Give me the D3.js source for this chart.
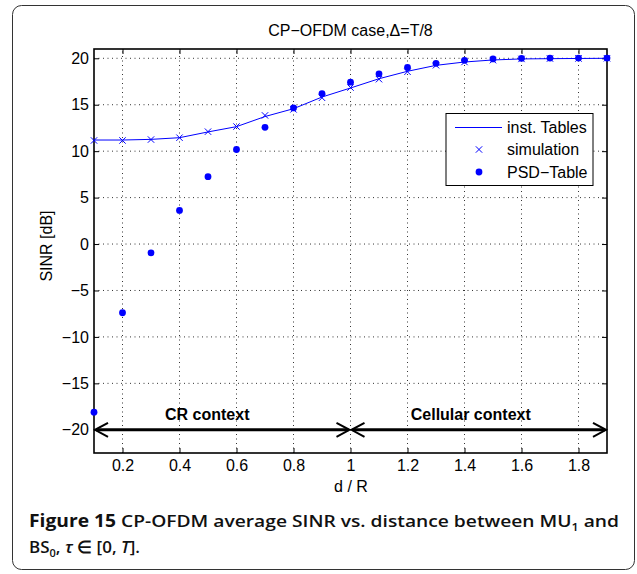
<!DOCTYPE html>
<html><head><meta charset="utf-8">
<script src="https://cdn.jsdelivr.net/npm/d3@7"></script>
<style>
body{margin:0;background:#fff;}
svg{display:block;}
</style></head>
<body>
<script>
// ---- data ----
const dR = [0.1,0.2,0.3,0.4,0.5,0.6,0.7,0.8,0.9,1.0,1.1,1.2,1.3,1.4,1.5,1.6,1.7,1.8,1.9];
const instTables = [11.2,11.2,11.27,11.45,12.07,12.64,13.73,14.57,15.83,16.8,17.8,18.6,19.24,19.6,19.82,19.93,19.96,19.98,20.0];
const simulation = [11.15,11.15,11.25,11.45,12.1,12.65,13.85,14.5,15.75,16.85,17.75,18.55,19.25,19.6,19.8,19.93,19.97,19.98,20.0];
const psdTable = [-18.1,-7.4,-0.95,3.62,7.25,10.18,12.57,14.65,16.2,17.43,18.33,19.02,19.46,19.78,19.93,20.0,20.02,20.02,20.02];
const xTicks = [0.2,0.4,0.6,0.8,1,1.2,1.4,1.6,1.8];
const yTicks = [-20,-15,-10,-5,0,5,10,15,20];
const legendLabels = ["inst. Tables","simulation","PSD\u2212Table"];
const regions = [{label:"CR context", from:0.1, to:1.0},{label:"Cellular context", from:1.0, to:1.9}];
const regionLevel = -20;

const W = 637, H = 574;
const L = 94, R = 607, T = 49, B = 453;
const blue = "#0000ff";
const font = "'Liberation Sans', Arial, Helvetica, sans-serif";

const svg = d3.select("body").append("svg").attr("width",W).attr("height",H);

// outer rounded frame
svg.append("rect").attr("x",12.5).attr("y",5.5).attr("width",622).attr("height",564)
  .attr("rx",9).attr("fill","#fff").attr("stroke","#333").attr("stroke-width",1);

const x = d3.scaleLinear().domain([0.1,1.9]).range([L,R]);
const y = d3.scaleLinear().domain([-22.5,21]).range([B,T]);

// grid
const grid = svg.append("g").attr("stroke","#000").attr("stroke-width",0.8).attr("stroke-dasharray","1,3.5");
grid.selectAll(".gx").data(xTicks).enter().append("line")
  .attr("x1",d=>x(d)).attr("x2",d=>x(d)).attr("y1",B).attr("y2",T);
grid.selectAll(".gy").data(yTicks).enter().append("line")
  .attr("x1",L).attr("x2",R).attr("y1",d=>y(d)).attr("y2",d=>y(d));

// axes
function styleAxis(g){
  g.select(".domain").remove();
  g.selectAll(".tick line").attr("stroke","#000").attr("stroke-width",1);
  g.selectAll("text").attr("font-family",font).attr("font-size",16).attr("fill","#000");
}
svg.append("g").attr("transform",`translate(0,${B})`)
  .call(d3.axisBottom(x).tickValues(xTicks).tickSizeInner(-5).tickSizeOuter(0).tickPadding(7).tickFormat(d3.format("")))
  .call(styleAxis);
svg.append("g").attr("transform",`translate(0,${T})`)
  .call(d3.axisTop(x).tickValues(xTicks).tickSizeInner(-5).tickSizeOuter(0).tickFormat(""))
  .call(styleAxis);
svg.append("g").attr("transform",`translate(${L},0)`)
  .call(d3.axisLeft(y).tickValues(yTicks).tickSizeInner(-5).tickSizeOuter(0).tickPadding(5))
  .call(styleAxis);
svg.append("g").attr("transform",`translate(${R},0)`)
  .call(d3.axisRight(y).tickValues(yTicks).tickSizeInner(-5).tickSizeOuter(0).tickFormat(""))
  .call(styleAxis);

// box
svg.append("rect").attr("x",L).attr("y",T).attr("width",R-L).attr("height",B-T)
  .attr("fill","none").attr("stroke","#000").attr("stroke-width",1.6);

// series
const line = d3.line().x((d,i)=>x(dR[i])).y(d=>y(d));
svg.append("path").datum(instTables).attr("d",line).attr("fill","none").attr("stroke",blue).attr("stroke-width",1);

const xm = 3.2;
svg.append("g").selectAll("path").data(simulation).enter().append("path")
  .attr("d",(d,i)=>{const cx=x(dR[i]), cy=y(d); return `M${cx-xm},${cy-xm}L${cx+xm},${cy+xm}M${cx-xm},${cy+xm}L${cx+xm},${cy-xm}`;})
  .attr("stroke",blue).attr("stroke-width",1).attr("fill","none");

svg.append("g").selectAll("circle").data(psdTable).enter().append("circle")
  .attr("cx",(d,i)=>x(dR[i])).attr("cy",d=>y(d)).attr("r",3.4).attr("fill",blue);

// region arrows
const ay = y(regionLevel);
const ag = svg.append("g");
regions.forEach(r=>{
  const x0 = x(r.from), x1 = x(r.to);
  ag.append("line").attr("x1",x0+2).attr("x2",x1-2).attr("y1",ay).attr("y2",ay)
    .attr("stroke","#000").attr("stroke-width",3);
  ag.append("path").attr("d",`M${x0+14},${ay-7}L${x0+1},${ay}L${x0+14},${ay+7}`)
    .attr("fill","none").attr("stroke","#000").attr("stroke-width",2);
  ag.append("path").attr("d",`M${x1-14},${ay-7}L${x1-1},${ay}L${x1-14},${ay+7}`)
    .attr("fill","none").attr("stroke","#000").attr("stroke-width",2);
  ag.append("text").attr("x",(x0+x1)/2 - (r.from<1?15:8)).attr("y",419.5)
    .attr("text-anchor","middle").attr("font-family",font).attr("font-weight","bold")
    .attr("font-size",16).text(r.label);
});

// title & labels
svg.append("text").attr("x",(L+R)/2).attr("y",36).attr("text-anchor","middle")
  .attr("font-family",font).attr("font-size",16).text("CP\u2212OFDM case,\u0394=T/8");
svg.append("text").attr("x",351).attr("y",491.5).attr("text-anchor","middle")
  .attr("font-family",font).attr("font-size",16).text("d / R");
svg.append("text").attr("transform","translate(52,246) rotate(-90)").attr("text-anchor","middle")
  .attr("font-family",font).attr("font-size",16).text("SINR [dB]");

// legend
const lg = svg.append("g");
lg.append("rect").attr("x",446).attr("y",113.5).attr("width",147).attr("height",72)
  .attr("fill","#fff").attr("stroke","#000").attr("stroke-width",1);
const rowsY = [127.5,149.5,172];
lg.append("line").attr("x1",455).attr("x2",502).attr("y1",rowsY[0]).attr("y2",rowsY[0]).attr("stroke",blue).attr("stroke-width",1);
lg.append("path").attr("d",`M${479-xm},${rowsY[1]-xm}L${479+xm},${rowsY[1]+xm}M${479-xm},${rowsY[1]+xm}L${479+xm},${rowsY[1]-xm}`)
  .attr("stroke",blue).attr("stroke-width",1);
lg.append("circle").attr("cx",479).attr("cy",rowsY[2]).attr("r",3.4).attr("fill",blue);
lg.selectAll("text").data(legendLabels).enter().append("text")
  .attr("x",507).attr("y",(d,i)=>rowsY[i]+5.5).attr("font-family",font).attr("font-size",16).text(d=>d);

// caption
const capFont = "'Open Sans','Noto Sans',sans-serif";
const c1 = svg.append("text").attr("x",29).attr("y",527).attr("font-family",capFont).attr("font-size",17)
  .attr("textLength",590).attr("lengthAdjust","spacingAndGlyphs").attr("fill","#111");
c1.append("tspan").attr("font-weight","bold").text("Figure 15");
c1.append("tspan").attr("font-weight","600").text(" CP-OFDM average SINR vs. distance between MU");
c1.append("tspan").attr("font-weight","600").attr("font-size",11).attr("dy",4).text("1");
c1.append("tspan").attr("font-weight","600").attr("dy",-4).text(" and");
const c2 = svg.append("text").attr("x",29).attr("y",553).attr("font-family",capFont).attr("font-size",17)
  .attr("font-weight","600").attr("fill","#111");
c2.append("tspan").text("BS");
c2.append("tspan").attr("font-size",11).attr("dy",4).text("0");
c2.append("tspan").attr("dy",-4).text(", ");
c2.append("tspan").attr("font-style","italic").text("\u03c4");
c2.append("tspan").text(" \u2208 [0, ");
c2.append("tspan").attr("font-style","italic").text("T");
c2.append("tspan").text("].");
</script>
</body></html>
